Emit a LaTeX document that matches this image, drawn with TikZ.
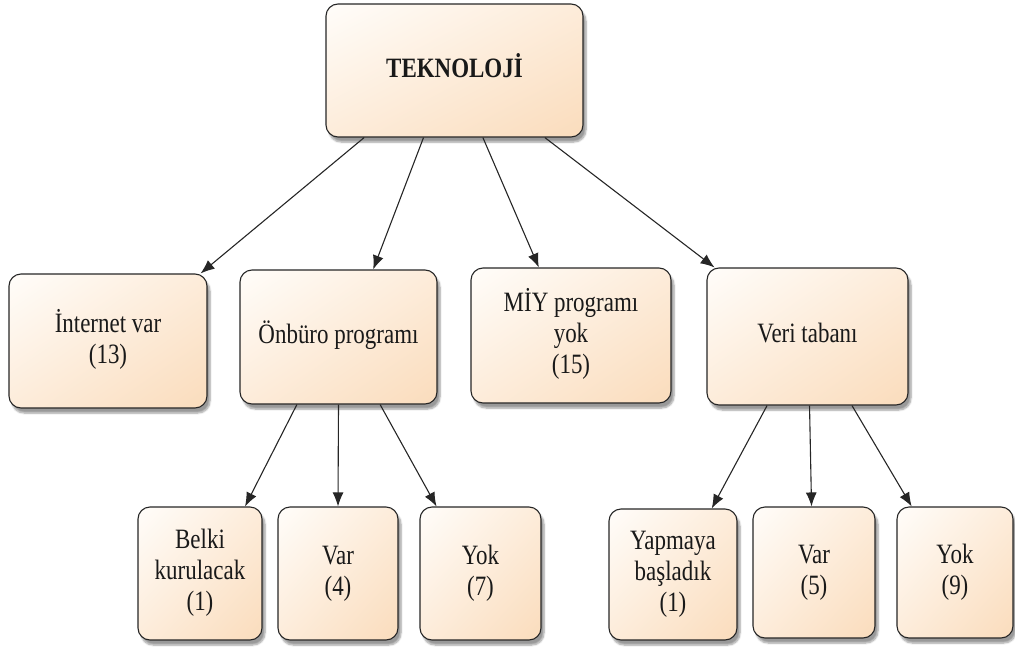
\documentclass[tikz,border=0pt]{standalone}
\usepackage{fontspec}
\setmainfont{Liberation Serif}
\usetikzlibrary{arrows.meta,shadows.blur,shadings,calc}

\definecolor{peachA}{RGB}{255,253,250}
\definecolor{peachB}{RGB}{253,236,218}
\definecolor{peachC}{RGB}{250,220,188}

\tikzset{
  box/.style={draw=black!85, line width=1.1pt, rounded corners=12pt,
    upper left=peachA, upper right=peachB, lower left=peachB, lower right=peachC,
    blur shadow={shadow xshift=3pt, shadow yshift=-5pt, shadow blur steps=6, shadow opacity=40},
    align=center, inner sep=0pt, text=black!90,
    font=\fontsize{28}{31}\selectfont},
  link/.style={draw=black!85, line width=1.1pt, -{Latex[length=14pt,width=11pt]}}
}

% narrow, centred lines of text
\newcommand{\narrow}[1]{\scalebox{0.82}[1]{\begin{tabular}{@{}c@{}}#1\end{tabular}}}

\newcommand{\bx}[6]{% name, x1, y1, x2, y2, text
  \node[box, minimum width={#4-#2}, minimum height={#5-#3}] (#1) at ({(#2+#4)/2},{(#3+#5)/2}) {\narrow{#6}};}

\begin{document}
\begin{tikzpicture}[x=1pt,y=-1pt]
\useasboundingbox (0,0) rectangle (1015,648);

\bx{tek}{326}{4}{583}{137}{\textbf{TEKNOLOJİ}}
\bx{int}{9}{274}{207}{408}{İnternet var\\(13)}
\bx{onb}{240}{270}{437}{404}{Önbüro programı}
\bx{miy}{471}{268}{671}{403}{MİY programı\\yok\\(15)}
\bx{veri}{707}{268}{908}{405}{Veri tabanı}
\bx{belki}{138}{507}{262}{640}{Belki\\kurulacak\\(1)}
\bx{var4}{278}{507}{398}{640}{Var\\(4)}
\bx{yok7}{420}{507}{541}{640}{Yok\\(7)}
\bx{yap}{609}{509}{737}{640}{Yapmaya\\başladık\\(1)}
\bx{var5}{753}{507}{875}{638}{Var\\(5)}
\bx{yok9}{897}{507}{1013}{638}{Yok\\(9)}

% top level
\draw[link] ($(tek.south west)!0.15!(tek.south east)$) -- ($(int.north west)!0.965!(int.north east)$);
\draw[link] ($(tek.south west)!0.38!(tek.south east)$) -- ($(onb.north west)!0.675!(onb.north east)$);
\draw[link] ($(tek.south west)!0.61!(tek.south east)$) -- ($(miy.north west)!0.34!(miy.north east)$);
\draw[link] ($(tek.south west)!0.85!(tek.south east)$) -- ($(veri.north west)!0.04!(veri.north east)$);

% front office branch
\draw[link] ($(onb.south west)!0.29!(onb.south east)$) -- ($(belki.north west)!0.86!(belki.north east)$);
\draw[link] ($(onb.south west)!0.5!(onb.south east)$) -- ($(var4.north west)!0.5!(var4.north east)$);
\draw[link] ($(onb.south west)!0.71!(onb.south east)$) -- ($(yok7.north west)!0.14!(yok7.north east)$);

% database branch
\draw[link] ($(veri.south west)!0.30!(veri.south east)$) -- ($(yap.north west)!0.8!(yap.north east)$);
\draw[link] ($(veri.south west)!0.51!(veri.south east)$) -- ($(var5.north west)!0.48!(var5.north east)$);
\draw[link] ($(veri.south west)!0.72!(veri.south east)$) -- ($(yok9.north west)!0.13!(yok9.north east)$);
\end{tikzpicture}
\end{document}
